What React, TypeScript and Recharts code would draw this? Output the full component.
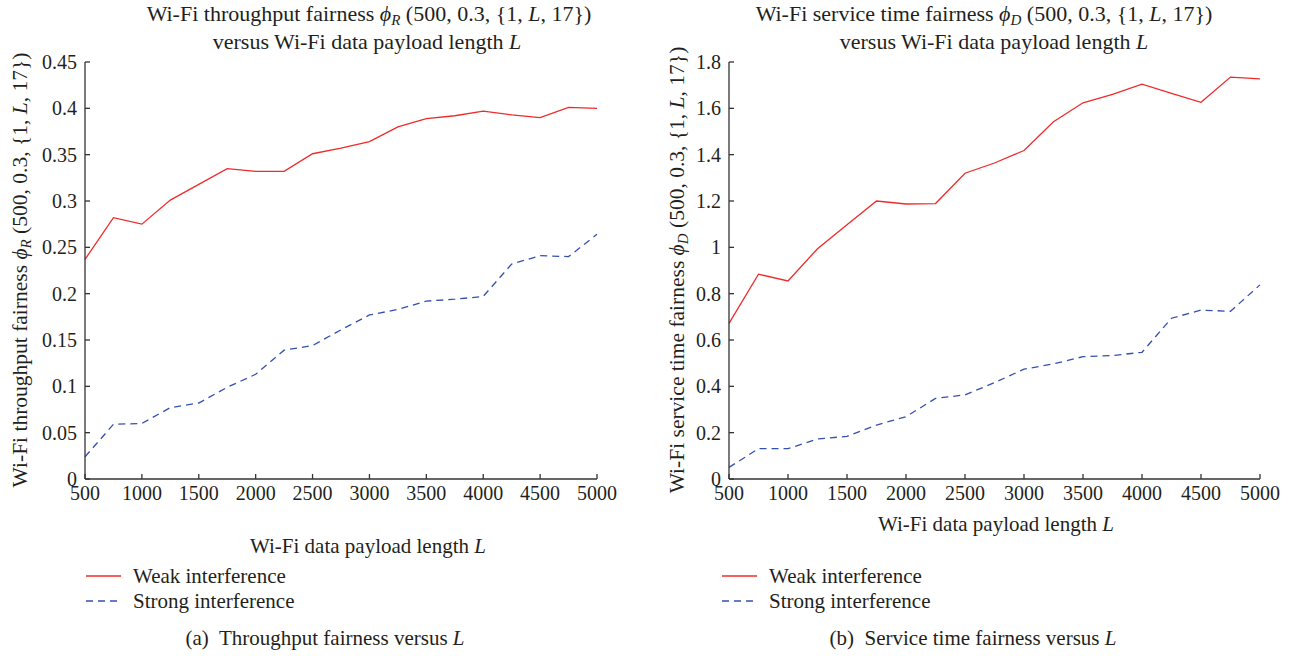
import { Line, LineChart, XAxis, YAxis } from "recharts";

// payload length L (x axis)
const payloadLengths = [
  500, 750, 1000, 1250, 1500, 1750, 2000, 2250, 2500, 2750, 3000, 3250, 3500,
  3750, 4000, 4250, 4500, 4750, 5000,
];
const xTicks = [500, 1000, 1500, 2000, 2500, 3000, 3500, 4000, 4500, 5000];

// (a) throughput fairness
const throughputWeak = [
  0.237, 0.282, 0.275, 0.301, 0.318, 0.335, 0.332, 0.332, 0.351, 0.357, 0.364,
  0.38, 0.389, 0.392, 0.397, 0.393, 0.39, 0.401, 0.4,
];
const throughputStrong = [
  0.024, 0.059, 0.06, 0.077, 0.082, 0.099, 0.113, 0.139, 0.144, 0.161, 0.177,
  0.183, 0.192, 0.194, 0.197, 0.232, 0.241, 0.24, 0.264,
];
const throughputTicks = [0, 0.05, 0.1, 0.15, 0.2, 0.25, 0.3, 0.35, 0.4, 0.45];

// (b) service time fairness
const serviceWeak = [
  0.672, 0.884, 0.855, 0.994, 1.097, 1.2, 1.187, 1.189, 1.32, 1.364, 1.418,
  1.542, 1.624, 1.66, 1.704, 1.665, 1.626, 1.735, 1.727,
];
const serviceStrong = [
  0.05, 0.131, 0.131, 0.173, 0.184, 0.233, 0.269, 0.348, 0.363, 0.416, 0.474,
  0.497, 0.528, 0.533, 0.547, 0.694, 0.729, 0.724, 0.838,
];
const serviceTicks = [0, 0.2, 0.4, 0.6, 0.8, 1, 1.2, 1.4, 1.6, 1.8];

const FONT = '"Liberation Serif", "DejaVu Serif", serif';
const INK = "#231f20";
const FRAME = "#333";
const RED = "#ee2b2b";
const BLUE = "#3450ae";

function buildRows(weak: number[], strong: number[]) {
  return payloadLengths.map((L, i) => ({ L, weak: weak[i], strong: strong[i] }));
}

function fmt(v: number) {
  return String(Number(v.toFixed(2)));
}

function BottomTick(props: any) {
  const { x, y, payload } = props;
  return (
    <text x={x} y={y} dy="0.71em" textAnchor="middle" fill={INK} fontFamily={FONT} fontSize={20}>
      {payload.value}
    </text>
  );
}

function LeftTick(props: any) {
  const { x, y, payload } = props;
  return (
    <text x={x} y={y} dy="0.35em" textAnchor="end" fill={INK} fontFamily={FONT} fontSize={20}>
      {fmt(payload.value)}
    </text>
  );
}

const NoTick = () => <g />;

interface PanelProps {
  rows: { L: number; weak: number; strong: number }[];
  yMax: number;
  yTicks: number[];
  left: number;
  plotLeft: number;
  plotRight: number;
}

function Panel({ rows, yMax, yTicks, left, plotLeft, plotRight }: PanelProps) {
  const width = 660;
  const height = 520;
  const yAxisWidth = 50;
  return (
    <div style={{ position: "absolute", left, top: 0 }}>
      <LineChart
        width={width}
        height={height}
        data={rows}
        margin={{
          top: 62,
          left: plotLeft - left - yAxisWidth,
          right: width - (plotRight - left),
          bottom: 20,
        }}
      >
        <XAxis
          dataKey="L"
          type="number"
          domain={[500, 5000]}
          ticks={xTicks}
          height={21}
          tickSize={-5}
          tickMargin={12}
          stroke={FRAME}
          strokeWidth={1.3}
          tick={<BottomTick />}
          interval={0}
        />
        <XAxis
          xAxisId="top"
          dataKey="L"
          type="number"
          orientation="top"
          domain={[500, 5000]}
          ticks={xTicks}
          height={0}
          tickSize={-5}
          stroke={FRAME}
          strokeWidth={1.3}
          tick={<NoTick />}
          interval={0}
        />
        <YAxis
          type="number"
          domain={[0, yMax]}
          ticks={yTicks}
          width={yAxisWidth}
          tickSize={-5}
          tickMargin={13}
          stroke={FRAME}
          strokeWidth={1.3}
          tick={<LeftTick />}
          interval={0}
        />
        <YAxis
          yAxisId="right"
          orientation="right"
          type="number"
          domain={[0, yMax]}
          ticks={yTicks}
          width={0}
          tickSize={-5}
          stroke={FRAME}
          strokeWidth={1.3}
          tick={<NoTick />}
          interval={0}
        />
        <Line
          dataKey="weak"
          stroke={RED}
          strokeWidth={1.3}
          dot={false}
          isAnimationActive={false}
        />
        <Line
          dataKey="strong"
          stroke={BLUE}
          strokeWidth={1.3}
          strokeDasharray="7 5"
          dot={false}
          isAnimationActive={false}
        />
      </LineChart>
    </div>
  );
}

function TextAt({
  cx,
  cy,
  size = 21,
  children,
  rotate = false,
}: {
  cx: number;
  cy: number;
  size?: number;
  children: React.ReactNode;
  rotate?: boolean;
}) {
  return (
    <div
      style={{
        position: "absolute",
        left: cx - 300,
        top: cy - 14,
        width: 600,
        height: 28,
        lineHeight: "28px",
        textAlign: "center",
        fontFamily: FONT,
        fontSize: size,
        color: INK,
        whiteSpace: "nowrap",
        transform: rotate ? "rotate(-90deg)" : undefined,
        transformOrigin: "center",
      }}
    >
      {children}
    </div>
  );
}

function LegendRow({ x, y, color, dashed, label }: { x: number; y: number; color: string; dashed?: boolean; label: string }) {
  return (
    <div style={{ position: "absolute", left: x, top: y - 14, height: 28, display: "flex", alignItems: "center" }}>
      <svg width={35} height={4} style={{ marginRight: 12 }}>
        <line x1={0} y1={2} x2={35} y2={2} stroke={color} strokeWidth={1.3} strokeDasharray={dashed ? "7 5" : undefined} />
      </svg>
      <span style={{ fontFamily: FONT, fontSize: 21, color: INK, lineHeight: "28px" }}>{label}</span>
    </div>
  );
}

const sub = (s: string) => (
  <>
    <i>ϕ</i>
    <sub style={{ fontSize: 15, verticalAlign: "-4px" }}>
      <i>{s}</i>
    </sub>
  </>
);

export default function App() {
  const throughputRows = buildRows(throughputWeak, throughputStrong);
  const serviceRows = buildRows(serviceWeak, serviceStrong);
  return (
    <div
      style={{
        position: "absolute",
        left: 0,
        top: 0,
        width: 1292,
        height: 656,
        background: "#fff",
        overflow: "hidden",
      }}
    >
      <Panel rows={throughputRows} yMax={0.45} yTicks={throughputTicks} left={0} plotLeft={85} plotRight={597} />
      <Panel rows={serviceRows} yMax={1.8} yTicks={serviceTicks} left={640} plotLeft={729} plotRight={1260} />

      <TextAt cx={369} cy={14} size={22}>
        Wi-Fi throughput fairness {sub("R")} (500, 0.3, {"{"}1, <i>L</i>, 17{"}"})
      </TextAt>
      <TextAt cx={367} cy={42} size={22}>
        versus Wi-Fi data payload length <i>L</i>
      </TextAt>
      <TextAt cx={20} cy={270} size={21.5} rotate>
        Wi-Fi throughput fairness {sub("R")} (500, 0.3, {"{"}1, <i>L</i>, 17{"}"})
      </TextAt>
      <TextAt cx={368} cy={546}>
        Wi-Fi data payload length <i>L</i>
      </TextAt>
      <LegendRow x={86} y={576} color={RED} label="Weak interference" />
      <LegendRow x={86} y={601} color={BLUE} dashed label="Strong interference" />
      <TextAt cx={325} cy={638}>
        (a)&nbsp; Throughput fairness versus <i>L</i>
      </TextAt>

      <TextAt cx={984} cy={14} size={22}>
        Wi-Fi service time fairness {sub("D")} (500, 0.3, {"{"}1, <i>L</i>, 17{"}"})
      </TextAt>
      <TextAt cx={994} cy={42} size={22}>
        versus Wi-Fi data payload length <i>L</i>
      </TextAt>
      <TextAt cx={677} cy={270} size={21.5} rotate>
        Wi-Fi service time fairness {sub("D")} (500, 0.3, {"{"}1, <i>L</i>, 17{"}"})
      </TextAt>
      <TextAt cx={996} cy={524}>
        Wi-Fi data payload length <i>L</i>
      </TextAt>
      <LegendRow x={722} y={576} color={RED} label="Weak interference" />
      <LegendRow x={722} y={601} color={BLUE} dashed label="Strong interference" />
      <TextAt cx={973} cy={638}>
        (b)&nbsp; Service time fairness versus <i>L</i>
      </TextAt>
    </div>
  );
}
